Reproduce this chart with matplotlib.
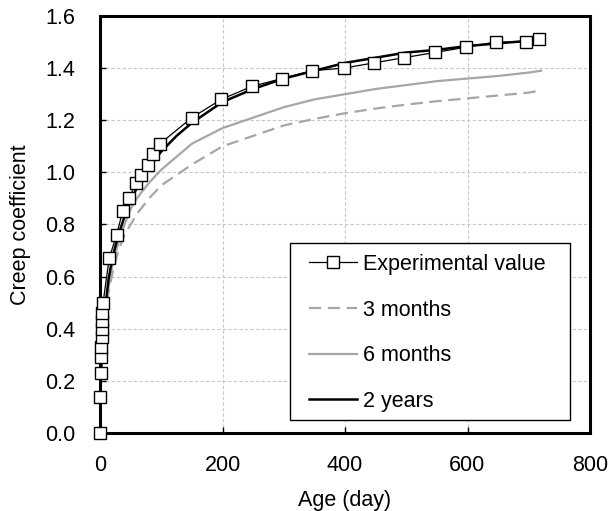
import matplotlib
matplotlib.use("Agg")
import matplotlib.pyplot as plt
from matplotlib.patches import Rectangle

plt.rcParams['font.family'] = ['Liberation Sans', 'DejaVu Sans']

# experimental creep coefficient
exp_days = [0, 0.5, 1, 1.5, 2, 2.5, 3, 3.5, 4, 5, 15, 27, 37, 48, 58, 67, 78, 87, 98,
            150, 198, 248, 297, 346, 398, 447, 496, 547, 597, 646, 695, 716]
exp_vals = [0.0, 0.14, 0.23, 0.29, 0.33, 0.37, 0.40, 0.43, 0.46, 0.50, 0.67, 0.76, 0.85,
            0.90, 0.96, 0.99, 1.03, 1.07, 1.11, 1.21, 1.28, 1.33, 1.36, 1.39, 1.40, 1.42,
            1.44, 1.46, 1.48, 1.50, 1.50, 1.51]

# model predictions
fit_days = [0, 1, 2, 3, 5, 7, 10, 14, 20, 30, 40, 50, 60, 80, 100, 125, 150, 200, 250,
            300, 350, 400, 450, 500, 550, 600, 650, 700, 720]
three_months = [0, 0.15, 0.23, 0.28, 0.35, 0.41, 0.48, 0.54, 0.61, 0.70, 0.76, 0.80, 0.84,
                0.90, 0.95, 0.99, 1.03, 1.10, 1.14, 1.18, 1.205, 1.227, 1.245, 1.26, 1.273,
                1.284, 1.295, 1.306, 1.315]
six_months = [0, 0.16, 0.23, 0.28, 0.36, 0.42, 0.49, 0.56, 0.64, 0.73, 0.80, 0.86, 0.90,
              0.96, 1.01, 1.06, 1.11, 1.17, 1.21, 1.25, 1.28, 1.30, 1.32, 1.335, 1.35,
              1.36, 1.37, 1.383, 1.39]
two_years = [0, 0.18, 0.26, 0.31, 0.39, 0.45, 0.51, 0.59, 0.67, 0.76, 0.83, 0.89, 0.94,
             1.02, 1.08, 1.14, 1.19, 1.27, 1.32, 1.36, 1.39, 1.42, 1.44, 1.46, 1.47,
             1.485, 1.495, 1.505, 1.51]

FS = 15.5

fig = plt.figure(figsize=(6.08, 5.11), dpi=100)
ax = fig.add_axes([100/608, 1-433/511, 490/608, 417/511])

ax.plot(exp_days, exp_vals, color='black', lw=0.9, marker='s', ms=8.4,
        mfc='white', mec='black', mew=1.0, label='Experimental value', zorder=4,
        clip_on=False)
ax.plot(fit_days, three_months, color='#a6a6a6', lw=1.6, ls=(0, (5.5, 3)), label='3 months')
ax.plot(fit_days, six_months, color='#a6a6a6', lw=1.6, label='6 months')
ax.plot(fit_days, two_years, color='black', lw=1.8, label='2 years', zorder=3)

ax.set_xlim(0, 800)
ax.set_ylim(0, 1.6)
ax.set_xticks([0, 200, 400, 600, 800])
ax.set_yticks([0.0, 0.2, 0.4, 0.6, 0.8, 1.0, 1.2, 1.4, 1.6])
ax.set_yticklabels(['%.1f' % v for v in ax.get_yticks()])
ax.grid(True, color='#c8c8c8', ls=(0, (3, 2)), lw=0.8)
ax.set_axisbelow(True)
for s in ax.spines.values():
    s.set_linewidth(2.2)
ax.tick_params(direction='in', length=4, width=1, labelsize=FS)
ax.tick_params(axis='y', pad=18)
ax.tick_params(axis='x', pad=16)

ax.set_xlabel('Age (day)', fontsize=FS, labelpad=10)
ax.set_ylabel('Creep coefficient', fontsize=FS, labelpad=10)

# legend box drawn separately
ax.add_patch(Rectangle((190/490, 13/417), 280/490, 177/417, transform=ax.transAxes,
                       facecolor='white', edgecolor='black', lw=1.0, zorder=5))
leg = ax.legend(loc='upper left', bbox_to_anchor=(209/490, 179/417), fontsize=FS,
                frameon=False, numpoints=1, handlelength=2.23, handletextpad=0.3,
                labelspacing=1.14, borderpad=0, borderaxespad=0)
leg.set_zorder(6)

fig.savefig('out.png', dpi=100)
